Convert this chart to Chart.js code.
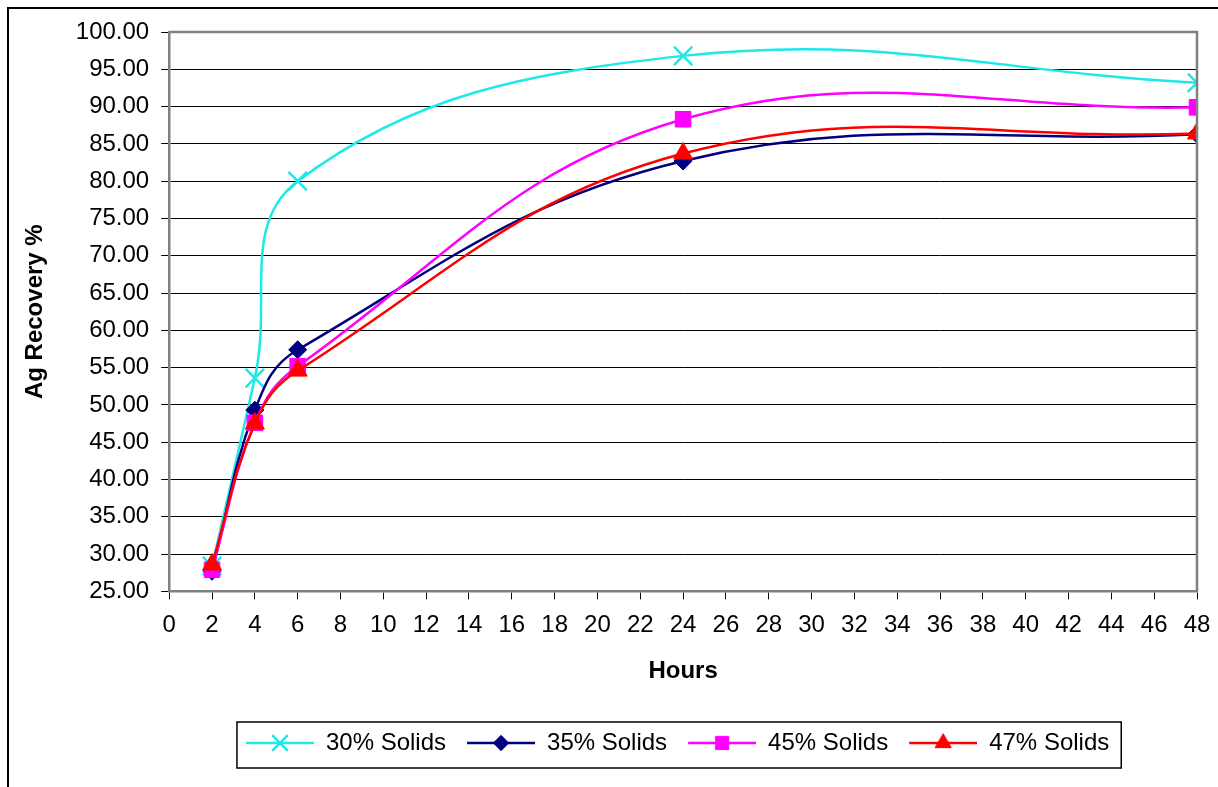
<!DOCTYPE html>
<html>
<head>
<meta charset="utf-8">
<script src="https://cdn.jsdelivr.net/npm/chart.js@4.4.1/dist/chart.umd.min.js"></script>
<style>
    html, body { margin: 0; padding: 0; background: #fff; }
    #wrap { position: relative; width: 1218px; height: 787px; }
</style>
</head>
<body>
<div id="wrap"><canvas id="agChart" width="1218" height="787"></canvas></div>
<script>
// Данные графика
const hours = [2, 4, 6, 24, 48];
const solids30 = [28.4, 53.6, 80.0, 96.8, 93.2];
const solids35 = [27.7, 49.3, 57.4, 82.7, 86.3];
const solids45 = [27.9, 47.6, 55.2, 88.3, 89.9];
const solids47 = [28.6, 47.5, 54.6, 83.7, 86.4];
const seriesLabels = ['30% Solids', '35% Solids', '45% Solids', '47% Solids'];

const FONT = 'Liberation Sans, Arial, sans-serif';
const ICON_W = 77;

function toPoints(values) {
    return hours.map((h, i) => ({ x: h, y: values[i] }));
}

const styles = [
    { color: '#1ee8e8', point: 'crossRot', radius: 13, bw: 2.5 },
    { color: '#000080', point: 'rectRot', radius: 9, bw: 1 },
    { color: '#ff00ff', point: 'rect', radius: 11, bw: 1 },
    { color: '#ff0000', point: 'triangle', radius: 11, bw: 1 }
];
const allValues = [solids30, solids35, solids45, solids47];

// Значок легенды: линия с маркером (слева 9px отступ)
function legendIcon(st) {
    const c = document.createElement('canvas');
    c.width = ICON_W; c.height = 26;
    const g = c.getContext('2d');
    g.strokeStyle = st.color;
    g.fillStyle = st.color;
    g.lineWidth = 2.5;
    g.beginPath(); g.moveTo(9, 13); g.lineTo(ICON_W, 13); g.stroke();
    g.lineWidth = st.bw;
    Chart.helpers.drawPoint(g, { pointStyle: st.point, radius: st.radius * 0.85, borderWidth: st.bw, rotation: 0 }, 9 + (ICON_W - 9) / 2, 13);
    return c;
}

const frame = {
    id: 'frame',
    afterLayout(chart) {
        // центрировать легенду под областью графика
        const a = chart.chartArea;
        const lg = chart.legend;
        const dx = (a.left + a.right) / 2 - (lg.left + lg.right) / 2 - 10;
        lg.left += dx;
        lg.right += dx;
    },
    beforeDraw(chart) {
        const ctx = chart.ctx;
        ctx.save();
        ctx.strokeStyle = '#000';
        ctx.lineWidth = 2;
        ctx.beginPath();
        ctx.moveTo(8, 787); ctx.lineTo(8, 8); ctx.lineTo(1218, 8);
        ctx.stroke();
        ctx.restore();
    },
    afterDraw(chart) {
        const ctx = chart.ctx;
        const a = chart.chartArea;
        ctx.save();
        ctx.strokeStyle = '#808080';
        ctx.lineWidth = 2.5;
        ctx.beginPath();
        ctx.moveTo(a.left, a.top); ctx.lineTo(a.right, a.top); ctx.lineTo(a.right, a.bottom);
        ctx.stroke();
        // рамка легенды
        const boxes = chart.legend.legendHitBoxes;
        if (boxes && boxes.length) {
            const l = Math.min(...boxes.map(b => b.left));
            const r = Math.max(...boxes.map(b => b.left + b.width));
            const t = Math.min(...boxes.map(b => b.top));
            const bt = Math.max(...boxes.map(b => b.top + b.height));
            ctx.strokeStyle = '#000';
            ctx.lineWidth = 1.5;
            ctx.strokeRect(l, t - 9, r - l + 12, bt - t + 22);
        }
        ctx.restore();
    }
};

const ctx = document.getElementById('agChart').getContext('2d');
const chart = new Chart(ctx, {
    type: 'line',
    data: {
        datasets: seriesLabels.map((label, i) => ({
            label: label,
            data: toPoints(allValues[i]),
            borderColor: styles[i].color,
            backgroundColor: styles[i].color,
            pointBackgroundColor: styles[i].color,
            pointBorderColor: styles[i].color,
            pointStyle: styles[i].point,
            pointRadius: styles[i].radius,
            pointBorderWidth: styles[i].bw,
            borderWidth: 2.5,
            tension: 0.4,
            fill: false,
            order: 4 - i
        }))
    },
    options: {
        responsive: false,
        animation: false,
        layout: { padding: { top: 32, left: 21, right: 2, bottom: 22 } },
        elements: { line: { capBezierPoints: false } },
        plugins: {
            tooltip: { enabled: false },
            legend: {
                position: 'bottom',
                labels: {
                    usePointStyle: true,
                    pointStyleWidth: ICON_W,
                    boxHeight: 24,
                    padding: 12,
                    color: '#000',
                    font: { family: FONT, size: 24 },
                    generateLabels: (chart) => chart.data.datasets.map((ds, i) => ({
                        text: ds.label,
                        pointStyle: legendIcon(styles[i]),
                        fillStyle: ds.borderColor,
                        strokeStyle: ds.borderColor,
                        lineWidth: 0,
                        datasetIndex: i,
                        fontColor: '#000'
                    }))
                }
            }
        },
        scales: {
            x: {
                type: 'linear',
                min: 0,
                max: 48,
                afterFit: (scale) => { scale.paddingRight = 21; },
                ticks: {
                    stepSize: 2,
                    color: '#000',
                    padding: 12,
                    maxRotation: 0,
                    autoSkip: false,
                    font: { family: FONT, size: 24 }
                },
                grid: { drawOnChartArea: false, drawTicks: true, tickLength: 8, color: '#000' },
                border: { color: '#808080', width: 2.5 },
                title: {
                    display: true,
                    text: 'Hours',
                    color: '#000',
                    font: { family: FONT, size: 24, weight: 'bold' },
                    padding: { top: 5, bottom: 33 }
                }
            },
            y: {
                min: 25,
                max: 100,
                ticks: {
                    stepSize: 5,
                    color: '#000',
                    padding: 12,
                    font: { family: FONT, size: 24 },
                    callback: (v) => v.toFixed(2)
                },
                grid: { color: '#000', lineWidth: 1, tickLength: 8 },
                border: { color: '#808080', width: 2.5 },
                title: {
                    display: true,
                    text: 'Ag Recovery %',
                    color: '#000',
                    font: { family: FONT, size: 24, weight: 'bold' },
                    padding: { top: 0, bottom: 14 }
                }
            }
        }
    },
    plugins: [frame]
});
</script>
</body>
</html>
